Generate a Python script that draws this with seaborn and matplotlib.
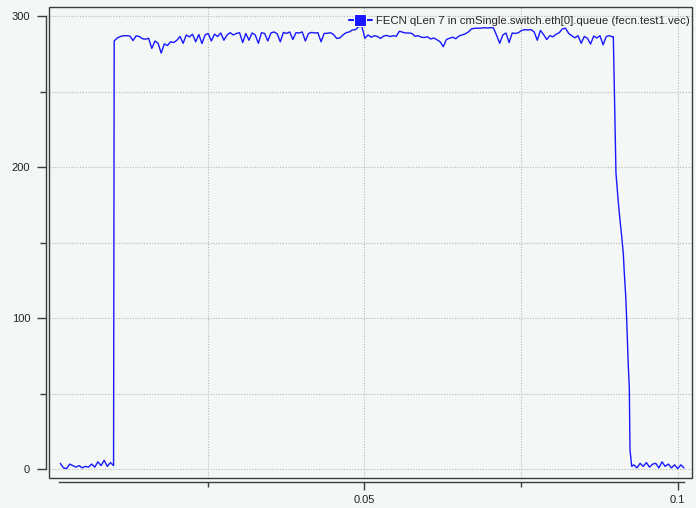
import numpy as np
import pandas as pd
import matplotlib
matplotlib.use("Agg")
import matplotlib.pyplot as plt
from matplotlib.patches import Rectangle
import seaborn as sns

# queue length vector (fecn.test1.vec), sampled every 0.5 ms
series_name = "FECN qLen 7 in cmSingle.switch.eth[0].queue (fecn.test1.vec)"
sample_step = 0.0005

# idle phase before the flow starts
idle_t0 = 0.0015
idle_q = [4, 1, 0.5, 3.5, 2.5, 1.5, 2.5, 1, 2, 1.5, 3.5, 1.5, 5, 2.5, 6, 2, 4.5, 2.5]

# congested phase, queue near its limit
busy_t0 = 0.0101
busy_q = [
    283.6, 285.5, 286.5, 287.0, 287.0, 286.8, 283.8, 286.9, 286.5, 285.0,
    284.7, 285.3, 278.6, 283.5, 282.0, 275.5, 281.6, 280.5, 283.0, 282.5,
    284.0, 286.5, 282.0, 287.5, 286.2, 288.0, 283.0, 287.8, 281.8, 287.5,
    288.5, 283.5, 288.0, 286.5, 288.8, 284.0, 287.5, 289.0, 287.5, 288.5,
    289.0, 282.5, 288.5, 284.0, 288.8, 287.5, 282.0, 289.0, 288.5, 283.5,
    288.8, 289.5, 288.3, 283.0, 289.2, 288.5, 289.5, 284.5, 289.0, 288.8,
    289.5, 283.5, 288.5, 289.2, 288.8, 289.0, 283.0, 288.5, 288.6, 289.0,
    287.8, 285.2, 285.5, 287.5, 289.0, 289.5, 290.8, 291.0, 293.0, 293.2,
    285.3, 287.5, 286.0, 287.0, 286.5, 285.2, 286.8, 287.2, 286.4, 287.0,
    286.6, 290.0, 289.3, 288.8, 288.8, 288.5, 286.6, 287.0, 286.0, 285.8,
    286.3, 284.8, 285.5, 284.3, 283.0, 279.7, 284.5, 285.3, 286.0, 285.0,
    286.8, 287.5, 288.2, 289.5, 291.5, 291.9, 292.0, 292.0, 292.3, 292.1,
    292.3, 292.2, 287.3, 282.0, 287.5, 288.8, 282.5, 288.8, 288.5, 289.0,
    290.5, 291.0, 290.8, 291.0, 289.5, 284.0, 290.5, 287.8, 284.5, 287.0,
    286.3, 288.0, 289.0, 291.5, 292.0, 288.5, 287.0, 285.6, 287.0, 282.0,
    286.5, 285.3, 281.5, 286.8, 285.5, 287.0, 281.0, 286.5, 287.0, 286.3,
]

# queue draining after the sources stop
drain_t = [0.08973, 0.08999, 0.09015, 0.09052, 0.09079, 0.09107, 0.09132,
           0.09148, 0.09170, 0.09186, 0.09212, 0.09228, 0.09239, 0.09266]
drain_q = [286.3, 229, 196, 177, 165, 154, 143, 130, 115, 99, 68, 54, 13, 2]

# idle again at the end
tail_t0 = 0.0930
tail_q = [3, 1, 4, 2, 4.5, 1.5, 3.5, 4, 1, 5, 2, 3.5, 1, 3, 0.5, 3, 1]

x_major = [0.05, 0.1]
x_minor = [0.025, 0.075]
y_major = [0, 100, 200, 300]
y_minor = [50, 150, 250]


def sampled(t0, values):
    return [t0 + sample_step * i for i in range(len(values))]


df = pd.DataFrame({
    "t": sampled(idle_t0, idle_q) + sampled(busy_t0, busy_q) + drain_t + sampled(tail_t0, tail_q),
    "qlen": idle_q + busy_q + drain_q + tail_q,
})

bg = "#f3f7f5"
dark = "#3c3c3c"

sns.set_style("ticks")
plt.rcParams["font.family"] = ["Liberation Sans", "DejaVu Sans"]
plt.rcParams["font.size"] = 8

fig = plt.figure(figsize=(6.96, 5.08), dpi=100, facecolor=bg)
ax = fig.add_axes([49 / 696, 30 / 508, 643 / 696, 471 / 508])
ax.set_facecolor(bg)

sns.lineplot(data=df, x="t", y="qlen", ax=ax, color="#1818ff", linewidth=1.0,
             label=series_name)

ax.set_xlim(-0.0003, 0.10228)
ax.set_ylim(-5.7, 306)
ax.set_xlabel("")
ax.set_ylabel("")

ax.set_xticks(x_major)
ax.set_xticklabels(["0.05", "0.1"])
ax.set_xticks(x_minor, minor=True)
ax.set_yticks(y_major)
ax.set_yticklabels([str(v) for v in y_major])
ax.set_yticks(y_minor, minor=True)

ax.grid(True, which="both", color="#b8b8b8", linestyle=(0, (1, 1.5)), linewidth=0.8)
ax.set_axisbelow(True)

# outer frame plus offset axis lines like the original viewer
for side in ["top", "right"]:
    ax.spines[side].set_visible(False)
ax.add_patch(Rectangle((0, 0), 1, 1, transform=ax.transAxes, fill=False,
                       edgecolor=dark, linewidth=1.0, clip_on=False, zorder=5))
ax.spines["left"].set_position(("outward", 2.5))
ax.spines["left"].set_bounds(0, 300)
ax.spines["bottom"].set_position(("outward", 3.2))
ax.spines["bottom"].set_bounds(df["t"].min() - 0.0002, df["t"].max())
for side in ["left", "bottom"]:
    ax.spines[side].set_color(dark)
    ax.spines[side].set_linewidth(1.0)

ax.tick_params(axis="y", which="major", length=6.5, width=1, color=dark, pad=4.5,
               labelsize=8, labelcolor="#222222")
ax.tick_params(axis="y", which="minor", length=4.3, width=1, color=dark)
ax.tick_params(axis="x", which="major", length=5.8, width=1, color=dark, pad=3,
               labelsize=8, labelcolor="#222222")
ax.tick_params(axis="x", which="minor", length=3.6, width=1, color=dark)

ax.legend(loc="upper right", bbox_to_anchor=(1.0 + 6 / 643, 1.0), frameon=False,
          borderaxespad=0.45, borderpad=0.3, handlelength=2.0, handletextpad=0.35,
          fontsize=8.2)
leg = ax.get_legend()
for h in leg.legend_handles:
    h.set_marker("s")
    h.set_markersize(9)
    h.set_linewidth(1.5)

fig.savefig("out.png", dpi=100, facecolor=bg)
